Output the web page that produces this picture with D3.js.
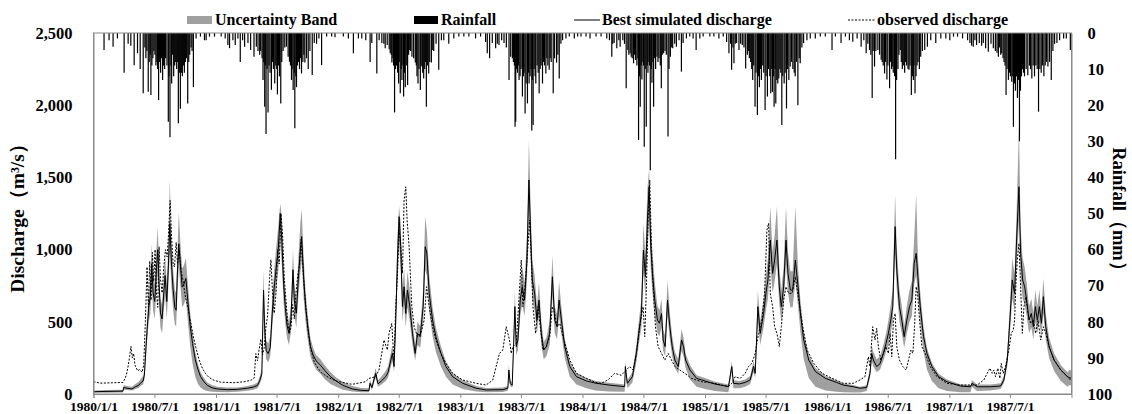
<!DOCTYPE html>
<html>
<head>
<meta charset="utf-8">
<script src="https://cdn.jsdelivr.net/npm/d3@7"></script>
<style>
    body { margin: 0; background: #fff; }
    svg { display: block; font-family: "Liberation Serif", "Times New Roman", serif; font-weight: bold; }
</style>
</head>
<body>
<div id="chart"></div>
<script>
// x tick labels (half-yearly)
const xTickLabels = ['1980/1/1', '1980/7/1', '1981/1/1', '1981/7/1', '1982/1/1', '1982/7/1', '1983/1/1', '1983/7/1',
    '1984/1/1', '1984/7/1', '1985/1/1', '1985/7/1', '1986/1/1', '1986/7/1', '1987/1/1', '1987/7/1'];
const dischargeTicks = [0, 500, 1000, 1500, 2000, 2500];
const rainTicks = [0, 10, 20, 30, 40, 50, 60, 70, 80, 90, 100];

// [day since 1980/1/1, best simulated, band lower, band upper]  (m3/s)
const simulated = [
    [0,16,8,25],[40,18,9,27],[88,20,10,30],[90,45,30,60],[100,40,28,55],[115,35,24,50],[125,50,35,70],[135,60,42,85],
    [140,75,55,100],[148,90,65,125],[152,130,100,170],[157,330,260,400],[160,440,360,520],[165,600,500,700],[170,680,560,790],
    [174,900,760,1040],[178,700,580,820],[183,640,520,760],[188,860,720,1000],[192,1000,840,1160],[196,760,620,880],
    [200,560,460,660],[205,520,420,620],[210,700,580,820],[214,820,680,960],[219,640,520,760],[224,900,760,1060],
    [228,1180,980,1480],[233,900,740,1060],[238,720,580,860],[243,600,480,720],[247,580,470,700],[251,860,720,1010],
    [255,1040,880,1260],[260,880,740,1030],[265,740,600,870],[270,760,620,890],[276,800,660,940],[282,640,500,760],
    [289,470,330,560],[296,350,210,420],[304,240,120,290],[312,170,70,210],[320,120,45,150],[330,85,28,110],[340,60,20,80],
    [355,42,15,60],[370,35,14,50],[400,30,12,45],[430,32,15,45],[460,40,22,55],[478,48,30,65],[490,60,40,80],[497,95,70,125],
    [503,140,110,180],[508,720,580,860],[512,420,340,520],[516,300,240,370],[522,280,220,350],[528,320,260,400],
    [534,560,460,660],[540,740,620,860],[546,880,740,1020],[552,1000,850,1160],[558,1250,1060,1320],[563,1050,880,1220],
    [568,760,630,890],[573,600,490,710],[578,480,390,570],[584,420,340,500],[590,520,430,620],[596,860,720,1000],
    [600,650,540,760],[606,560,460,660],[612,800,670,940],[618,1000,840,1180],[622,1090,920,1280],[628,800,660,940],
    [634,600,490,700],[640,470,380,550],[648,330,260,390],[656,270,210,320],[665,230,170,270],[678,200,140,240],
    [692,160,100,195],[708,120,70,150],[725,90,50,115],
    [745,60,30,85],[773,35,18,55],[800,25,12,42],[823,23,12,40],[826,74,55,95],[832,45,30,65],[843,143,110,180],
    [850,70,50,95],[860,90,65,120],[873,120,90,160],[880,150,115,190],[893,281,230,340],[898,190,150,240],[903,512,420,610],
    [908,928,780,1080],[913,1228,1040,1300],[918,1020,860,1180],[923,605,500,720],[928,743,620,870],[933,558,460,660],
    [938,720,600,850],[945,605,500,720],[953,420,340,510],[961,281,230,340],[968,420,340,500],[976,397,320,470],
    [985,605,500,720],[991,1020,860,1230],[996,974,820,1130],[1003,697,570,820],[1013,512,400,600],[1023,397,290,460],
    [1038,281,190,330],[1053,190,120,225],[1073,120,65,145],[1103,74,35,95],[1143,40,18,55],[1173,28,12,42],[1223,30,14,45],
    [1238,40,22,55],[1241,166,130,200],[1245,74,55,95],[1251,60,45,80],[1255,328,270,390],[1259,605,500,720],
    [1263,328,270,390],[1268,374,300,440],[1275,650,540,770],[1281,743,620,880],[1288,650,540,770],[1295,928,780,1100],
    [1301,1482,1250,1760],[1306,1112,940,1300],[1311,790,660,930],[1318,697,580,820],[1325,512,420,610],[1331,650,540,770],
    [1338,420,340,500],[1345,305,240,360],[1353,328,260,390],[1363,420,340,500],[1371,812,680,960],[1378,512,420,610],
    [1385,466,380,550],[1391,650,540,780],[1398,512,410,600],[1408,328,250,380],[1423,190,120,225],[1443,120,65,145],
    [1473,90,40,110],
    [1500,75,25,90],[1540,62,18,78],[1587,51,15,65],[1589,190,150,230],[1595,74,40,95],[1610,120,80,150],[1622,281,220,340],
    [1629,420,340,500],[1637,558,460,660],[1643,997,840,1180],[1649,812,680,960],[1655,1205,1010,1420],[1660,1435,1200,1560],
    [1665,1020,860,1200],[1670,835,700,980],[1677,650,540,770],[1685,512,420,610],[1691,490,400,580],[1697,558,460,660],
    [1702,374,300,450],[1708,328,260,400],[1715,650,540,790],[1722,466,380,560],[1729,328,260,400],[1737,235,180,290],
    [1747,190,140,240],[1757,374,300,450],[1763,328,260,390],[1769,235,180,280],[1782,166,100,200],[1802,108,50,130],
    [1827,90,35,110],[1857,69,20,85],[1897,51,12,65],[1907,190,150,230],[1912,74,40,95],[1930,70,40,90],[1947,80,50,100],
    [1962,97,70,125],[1972,190,150,230],[1977,143,110,180],[1985,605,500,720],[1992,420,340,500],[2002,558,460,660],
    [2009,697,580,820],[2015,790,660,940],[2022,1066,900,1300],[2029,835,700,980],[2035,928,780,1100],[2042,1066,900,1300],
    [2049,743,620,880],[2055,605,500,720],[2062,743,620,880],[2069,1066,900,1300],[2075,835,700,980],[2082,720,600,850],
    [2089,720,600,850],[2097,928,780,1300],[2105,743,610,870],[2112,558,430,650],[2122,374,240,430],[2137,235,110,270],
    [2157,155,50,180],[2187,108,25,125],
    [2220,80,15,95],[2240,62,12,75],[2270,50,10,62],[2290,40,10,50],[2310,45,20,60],[2320,143,110,180],[2325,281,230,340],
    [2330,235,190,290],[2340,190,150,240],[2350,210,170,260],[2360,281,230,340],[2368,351,290,420],[2375,420,340,510],
    [2382,512,420,620],[2388,605,500,730],[2395,1159,970,1380],[2400,858,720,1010],[2408,605,500,720],[2415,512,420,610],
    [2422,397,320,470],[2430,512,420,610],[2438,605,500,720],[2445,650,540,780],[2452,905,760,1080],[2458,974,820,1380],
    [2463,812,680,960],[2470,605,490,710],[2480,397,290,460],[2490,281,170,320],[2505,190,90,215],[2525,120,40,140],
    [2550,85,20,100],[2590,55,12,68],[2620,50,12,62],[2625,74,50,95],[2640,50,20,65],[2680,50,25,65],[2710,55,35,75],
    [2720,97,75,125],[2730,235,190,285],[2738,512,420,620],[2745,790,660,940],[2752,697,580,830],[2758,1066,900,1260],
    [2765,1435,1200,1850],[2770,974,820,1150],[2776,790,660,940],[2782,743,620,880],[2788,650,540,770],[2795,512,420,610],
    [2802,558,460,660],[2808,466,380,560],[2814,605,500,720],[2820,512,420,610],[2826,605,500,720],[2832,490,400,580],
    [2838,674,560,800],[2845,466,380,560],[2855,328,250,390],[2870,235,160,280],[2890,166,90,200],[2910,120,50,150],
    [2914,115,60,165],[2921,108,60,165]
];

// [day since 1980/1/1, observed discharge]
const observed = [
    [0,85],[20,75],[60,78],[88,80],[95,110],[100,150],[104,200],[108,260],[112,330],[116,250],[120,280],[124,200],[128,180],
    [132,160],[138,170],[145,150],[150,200],[155,500],[160,880],[164,600],[168,920],[172,650],[176,980],[180,780],[184,1000],
    [188,700],[192,600],[196,1020],[200,800],[205,700],[210,880],[215,1000],[220,950],[224,1100],[229,1340],[233,1100],
    [238,900],[242,880],[247,1050],[251,900],[256,1000],[262,850],[268,780],[274,680],[282,600],[290,500],[298,400],[306,320],
    [315,240],[325,180],[335,140],[345,115],[360,95],[380,82],[420,78],[450,85],[470,95],[480,110],[485,280],[490,230],
    [495,310],[500,380],[505,270],[510,320],[515,460],[520,540],[526,800],[530,930],[535,700],[540,560],[546,720],[550,1000],
    [555,900],[560,1250],[565,1100],[570,800],[575,650],[580,500],[585,420],[590,460],[595,620],[600,520],[605,700],[610,820],
    [616,900],[620,1070],[625,900],[630,720],[636,560],[642,420],[650,300],[660,220],[670,180],[680,150],[695,125],[710,105],
    [725,90],
    [745,80],[773,67],[813,85],[823,108],[843,120],[853,166],[863,305],[868,374],[878,305],[883,420],[891,489],[898,235],
    [903,605],[908,812],[913,1135],[918,1020],[923,835],[928,1343],[933,1435],[937,1205],[943,1020],[951,605],[958,466],
    [968,397],[978,420],[988,512],[995,743],[1003,605],[1013,466],[1023,374],[1038,281],[1053,212],[1073,143],[1103,97],
    [1143,74],[1173,62],[1193,97],[1203,190],[1213,281],[1223,305],[1233,466],[1238,420],[1243,374],[1248,281],[1253,328],
    [1263,351],[1271,650],[1278,928],[1283,605],[1291,790],[1298,1020],[1303,1205],[1308,928],[1313,605],[1321,420],
    [1328,605],[1335,466],[1343,305],[1353,328],[1363,397],[1371,605],[1378,558],[1385,466],[1393,489],[1403,397],
    [1423,235],[1443,143],[1473,108],
    [1500,80],[1517,74],[1537,97],[1557,143],[1577,130],[1587,155],[1602,190],[1612,166],[1622,281],[1632,466],[1642,605],
    [1647,397],[1652,743],[1657,1205],[1662,1482],[1667,1020],[1672,743],[1679,466],[1687,328],[1697,281],[1707,235],
    [1717,281],[1727,235],[1737,190],[1752,166],[1767,143],[1787,108],[1817,85],[1857,74],[1897,51],[1907,74],[1917,120],
    [1932,108],[1947,143],[1957,190],[1967,212],[1977,281],[1987,420],[1997,512],[2005,697],[2012,1135],[2017,1182],
    [2022,697],[2029,605],[2035,466],[2042,420],[2049,328],[2055,466],[2062,650],[2069,743],[2077,697],[2087,697],
    [2097,812],[2107,650],[2119,466],[2132,305],[2152,212],[2177,143],[2207,108],
    [2240,74],[2270,74],[2290,97],[2305,120],[2315,258],[2320,190],[2328,466],[2335,374],[2340,455],[2345,328],[2352,235],
    [2360,281],[2368,328],[2375,281],[2380,420],[2385,258],[2390,512],[2395,558],[2400,328],[2408,235],[2418,190],
    [2428,166],[2435,235],[2442,305],[2448,281],[2453,466],[2458,743],[2462,697],[2468,512],[2475,328],[2485,281],
    [2500,190],[2520,120],[2550,74],[2590,62],[2640,62],[2660,97],[2670,143],[2678,178],[2685,143],[2690,166],[2695,120],
    [2702,178],[2708,108],[2712,212],[2718,143],[2725,190],[2735,305],[2742,420],[2748,443],[2752,512],[2756,766],
    [2760,928],[2765,1043],[2770,743],[2775,420],[2780,605],[2786,674],[2792,558],[2800,489],[2808,512],[2815,420],
    [2822,512],[2830,374],[2838,466],[2845,420],[2855,328],[2870,235],[2890,166],[2910,120],[2921,90]
];

// [day since 1980/1/1, daily rainfall mm]
const rainfall = [
    [30,4.7],[45,2],[57,3.8],[70,1.5],[90,11],[102,3],[110,3.5],[120,8.9],[130,5.6],[138,10],[147,16.7],[152,4],[155,7],
    [158,5],[162,16.3],[165,8],[168,6],[170,17.2],[173,9],[176,7],[179,5],[182,6],[185,9],[188,8],[190,10],[193,18.6],
    [196,8],[199,11],[202,7],[205,13],[208,9],[211,10],[214,7],[218,9],[222,24.6],[224,12],[227,28.9],[230,9],[232,14],
    [235,6],[238,12],[241,9],[244,8],[247,10],[250,8],[252,25],[255,11],[258,21],[261,11],[264,12],[267,9],[270,11],
    [273,8],[276,7],[280,19.5],[283,8],[286,6],[290,4],[293,5],[297,15],[305,1.5],[318,1],[330,2],[335,2],[345,1],[360,1],
    [380,1],[392,1.5],[400,3.3],[405,4.2],[415,2],[422,3.3],[430,1.5],[437,8],[444,2],[450,3.8],[460,2.8],[468,4.7],
    [478,6.6],[485,3.8],[490,5],[495,6],[498,5],[502,7],[505,13],[507,8],[510,20.4],[512,9],[514,28],[517,10],[520,22],
    [523,9],[526,11],[530,15.7],[533,8],[536,10],[540,14],[543,9],[546,10],[548,17],[551,9],[554,12],[558,19.5],[561,8],
    [565,5],[570,4],[575,3.8],[580,6.6],[584,8],[587,9],[590,13],[592,10],[595,15.8],[598,11],[600,26.4],[603,12],[605,15],
    [608,9],[611,8],[614,10],[617,7],[620,11.2],[624,8],[627,6],[630,8.2],[635,7],[640,10],[645,5],[652,11.6],[658,2.8],
    [665,3],[672,1.5],[680,8.9],[695,1],[710,1],[720,1.2],
    [745,1],[760,1.5],[775,5.6],[790,1.5],[800,1.5],[812,2],[825,8],[830,2.8],[845,11.2],[852,2],[860,2.8],[866,3],[870,4.2],
    [876,3.3],[882,4.5],[885,5.6],[888,6],[890,8.2],[893,7],[895,9],[898,22],[901,10],[904,9],[907,11],[910,14],[912,8],
    [915,16.7],[918,10],[920,13],[923,9],[925,17.6],[928,11],[930,15],[933,9],[937,14.4],[940,6],[942,4.7],[946,5],
    [950,6.6],[955,7],[960,8.2],[963,9],[965,12],[968,14],[971,10],[975,15.8],[977,9],[980,9.3],[982,11],[985,12.6],
    [988,10],[990,8],[993,20.4],[996,9],[1000,11.2],[1003,8],[1008,8.2],[1012,4.7],[1015,5],[1022,3],[1030,10.2],[1038,2],
    [1045,2],[1060,3],[1075,1.5],[1090,1],
    [1105,1],[1120,1],[1140,1.5],[1155,1],[1170,2.5],[1175,5.6],[1182,7],[1190,2.8],[1200,4.2],[1205,3],[1210,3.3],
    [1218,2],[1225,2.8],[1232,4],[1240,13],[1245,6.6],[1250,7],[1253,8],[1256,9],[1258,26],[1260,24.6],[1262,10],[1265,11],
    [1268,9],[1270,13],[1273,12],[1276,10],[1280,17.6],[1283,12],[1285,11],[1288,22.3],[1291,14],[1295,19.5],[1298,11],
    [1300,14],[1303,12],[1306,10],[1308,27],[1310,13],[1312,25.5],[1315,10],[1318,12],[1320,14],[1324,9],[1327,11],
    [1330,16.7],[1333,10],[1336,9],[1340,14],[1343,8],[1346,9],[1350,11.2],[1353,7],[1356,9],[1360,10.2],[1363,7],[1366,8],
    [1372,16.7],[1376,7],[1382,8.2],[1386,6],[1390,12.6],[1395,3],[1400,2],[1410,1.5],[1420,1],[1435,1.5],[1445,1],[1455,1],
    [1470,1],[1482,1.5],[1500,1],[1515,1],[1532,1.5],[1540,2],[1547,6.6],[1550,3],[1554,2.8],[1562,4.2],[1568,2],[1572,3.8],
    [1580,2],[1585,3],[1590,15.3],[1595,4.7],[1598,6],[1602,5.6],[1605,6.6],[1608,7],[1612,8.4],[1615,6],[1618,7.5],
    [1622,9],[1625,7],[1627,29.6],[1630,12],[1632,20.4],[1635,9],[1637,12.9],[1640,8],[1642,9],[1644,31.5],[1647,10],
    [1650,26],[1653,9],[1655,11],[1658,8],[1660,9],[1662,38],[1665,10],[1667,13.8],[1670,8],[1672,20.4],[1675,7],[1678,10],
    [1682,6.6],[1685,8],[1688,7],[1692,9],[1695,15.3],[1698,6],[1702,5.6],[1706,5],[1710,6],[1715,28.7],[1718,10],
    [1722,6.6],[1726,4],[1729,4.2],[1735,3],[1740,3.8],[1748,2],[1755,10.7],[1760,2.8],[1770,1.5],[1780,1],[1790,1.5],
    [1799,4.7],[1810,1.5],[1820,1],
    [1840,1],[1852,1],[1867,1.5],[1880,1],[1890,2.5],[1897,5.6],[1902,3],[1905,10.2],[1909,4],[1912,8.4],[1916,3],
    [1920,2.8],[1927,4.7],[1932,3],[1937,3.3],[1942,4],[1947,9.8],[1952,6],[1955,5],[1958,7],[1962,8],[1965,10],[1968,13],
    [1971,9],[1975,20.4],[1978,11],[1982,22.7],[1985,12],[1988,15],[1991,10],[1994,13],[1998,9],[2001,11],[2005,21.3],
    [2008,12],[2012,17.6],[2015,10],[2019,12],[2022,16.7],[2025,10],[2027,16.3],[2030,12],[2032,20.4],[2035,10],
    [2037,19.5],[2040,13],[2043,14],[2046,12.6],[2049,10],[2052,11],[2055,25.5],[2058,12],[2062,14],[2065,11],[2069,20.9],
    [2072,10],[2076,13],[2080,9.3],[2084,8],[2088,10],[2092,11],[2095,12],[2099,8],[2103,20],[2107,7],[2110,8.4],[2115,4],
    [2120,2.8],[2130,2],[2140,1.5],[2155,1.5],[2170,1],[2185,1],
    [2205,4.7],[2215,1],[2232,2.8],[2245,1],[2257,2],[2267,2.4],[2280,1.5],[2292,3.8],[2300,2],[2307,5.6],[2312,3],
    [2317,4.7],[2321,6],[2325,18],[2328,5],[2332,9.3],[2336,5],[2342,4.7],[2347,6],[2352,7.4],[2355,8],[2358,9],[2362,11.2],
    [2365,8],[2369,12.9],[2372,9],[2377,15.3],[2380,8],[2383,10],[2385,9.3],[2388,11],[2392,12],[2395,35],[2398,13],
    [2402,10],[2405,6],[2409,4.7],[2412,8],[2415,10],[2418,9],[2422,11],[2425,8],[2428,9],[2432,10],[2435,10.2],[2438,9],
    [2442,17.2],[2445,12],[2448,13],[2450,9],[2453,16.7],[2456,12],[2459,9],[2462,8],[2466,10],[2470,6.6],[2475,5],
    [2482,4.7],[2490,3.8],[2500,2],[2515,2.8],[2530,1.5],[2545,1.5],[2557,2],
    [2568,1],[2580,1],[2595,1.5],[2610,2],[2617,2.8],[2622,3.5],[2627,3.8],[2632,2],[2637,3.3],[2645,2.8],[2652,3.5],
    [2657,2.8],[2664,4.2],[2672,5.2],[2680,3],[2687,4.2],[2693,5],[2698,5.5],[2702,6.6],[2705,4],[2709,6],[2712,5.6],
    [2716,7],[2719,8],[2722,9],[2725,17.2],[2728,10],[2732,13],[2735,11],[2738,12],[2742,13.5],[2745,12],[2747,26],
    [2750,14],[2753,16],[2756,12],[2759,18],[2762,13],[2765,30],[2768,16],[2771,12],[2774,10],[2777,11],[2780,12],
    [2785,10],[2790,11.7],[2795,9],[2798,10],[2802,12.6],[2806,9],[2810,12],[2814,9],[2818,10],[2822,21.8],[2826,10],
    [2830,11],[2834,9],[2838,12],[2842,9],[2846,8],[2850,9.3],[2855,8],[2860,13],[2865,5],[2870,3],[2877,2.8],[2885,2],
    [2897,1.5],[2905,1.5],[2917,4.7]
];

const width = 1132, height = 414;
const margin = { top: 33, right: 60.5, bottom: 20, left: 93.5 };

const start = new Date(1980, 0, 1);
const toDate = d => d3.timeDay.offset(start, d);
const parseTick = d3.timeParse('%Y/%m/%d');

const svg = d3.select('#chart').append('svg')
    .attr('width', width)
    .attr('height', height);

// scales
const x = d3.scaleTime()
    .domain([start, new Date(1988, 0, 1)])
    .range([margin.left, width - margin.right]);

const yQ = d3.scaleLinear()
    .domain([0, 2500])
    .range([height - margin.bottom, margin.top]);

const yR = d3.scaleLinear()
    .domain([0, 100])
    .range([margin.top, height - margin.bottom]);

// uncertainty band
const band = d3.area()
    .x(d => x(toDate(d[0])))
    .y0(d => yQ(d[2]))
    .y1(d => yQ(d[3]));

svg.append('path')
    .datum(simulated)
    .attr('fill', '#a0a0a0')
    .attr('d', band);

// rainfall bars hanging from the top
svg.append('g')
    .selectAll('line')
    .data(rainfall)
    .join('line')
    .attr('x1', d => x(toDate(d[0])) + 0.5)
    .attr('x2', d => x(toDate(d[0])) + 0.5)
    .attr('y1', yR(0))
    .attr('y2', d => yR(d[1]))
    .attr('stroke', '#000')
    .attr('stroke-width', 1.2);

// discharge lines
const qLine = d3.line()
    .x(d => x(toDate(d[0])))
    .y(d => yQ(d[1]));

svg.append('path')
    .datum(simulated)
    .attr('fill', 'none')
    .attr('stroke', '#000')
    .attr('stroke-width', 1)
    .attr('d', qLine);

svg.append('path')
    .datum(observed)
    .attr('fill', 'none')
    .attr('stroke', '#000')
    .attr('stroke-width', 1)
    .attr('stroke-dasharray', '2,1.5')
    .attr('d', qLine);

// frame
svg.append('rect')
    .attr('x', margin.left)
    .attr('y', margin.top)
    .attr('width', width - margin.left - margin.right)
    .attr('height', height - margin.top - margin.bottom)
    .attr('fill', 'none')
    .attr('stroke', '#8a8a8a');

// axes
const xAxis = svg.append('g')
    .attr('transform', `translate(0,${height - margin.bottom})`)
    .call(d3.axisBottom(x)
        .tickValues(xTickLabels.map(parseTick))
        .tickFormat((d, i) => xTickLabels[i])
        .tickSize(4)
        .tickPadding(3));

const yAxisLeft = svg.append('g')
    .attr('transform', `translate(${margin.left},0)`)
    .call(d3.axisLeft(yQ)
        .tickValues(dischargeTicks)
        .tickFormat(d3.format(','))
        .tickSize(0)
        .tickPadding(21));

const yAxisRight = svg.append('g')
    .attr('transform', `translate(${width - margin.right},0)`)
    .call(d3.axisRight(yR)
        .tickValues(rainTicks)
        .tickSize(0)
        .tickPadding(16));

[xAxis, yAxisLeft, yAxisRight].forEach(g => {
    g.select('.domain').attr('stroke', '#8a8a8a');
    g.selectAll('.tick line').attr('stroke', '#8a8a8a');
    g.selectAll('text')
        .attr('fill', '#000')
        .style('font-family', '"Liberation Serif", "Times New Roman", serif')
        .style('font-weight', 'bold');
});
xAxis.selectAll('text').style('font-size', '13.5px');
yAxisLeft.selectAll('text').style('font-size', '16.5px');
yAxisRight.selectAll('text').style('font-size', '16.5px');

// axis titles
svg.append('text')
    .attr('transform', `translate(24,${(margin.top + height - margin.bottom) / 2}) rotate(-90)`)
    .attr('text-anchor', 'middle')
    .style('font-size', '19.5px')
    .text('Discharge（m³/s）');

svg.append('text')
    .attr('transform', `translate(1113,${(margin.top + height - margin.bottom) / 2}) rotate(90)`)
    .attr('text-anchor', 'middle')
    .style('font-size', '18.5px')
    .text('Rainfall（mm）');

// legend
const legend = svg.append('g').style('font-size', '16px');

legend.append('rect').attr('x', 187).attr('y', 16).attr('width', 25).attr('height', 8).attr('fill', '#a0a0a0');
legend.append('text').attr('x', 215).attr('y', 25).text('Uncertainty Band');

legend.append('rect').attr('x', 414).attr('y', 16).attr('width', 24).attr('height', 8).attr('fill', '#000');
legend.append('text').attr('x', 441).attr('y', 25).text('Rainfall');

legend.append('line').attr('x1', 574).attr('x2', 600).attr('y1', 20).attr('y2', 20)
    .attr('stroke', '#000').attr('stroke-width', 1);
legend.append('text').attr('x', 602).attr('y', 25).text('Best simulated discharge');

legend.append('line').attr('x1', 848).attr('x2', 875).attr('y1', 20).attr('y2', 20)
    .attr('stroke', '#000').attr('stroke-width', 1).attr('stroke-dasharray', '2,1.5');
legend.append('text').attr('x', 877).attr('y', 25).text('observed discharge');
</script>
</body>
</html>
